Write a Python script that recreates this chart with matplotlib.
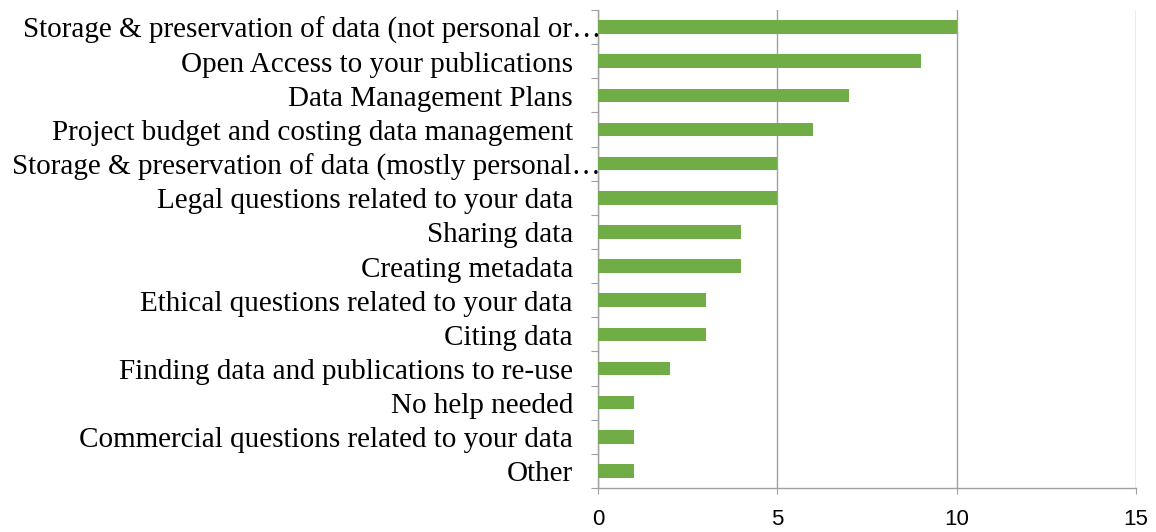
import matplotlib.pyplot as plt
import numpy as np

# survey: what help is wanted with research data
categories = [
    'Storage & preservation of data (not personal or\u2026',
    'Open Access to your publications',
    'Data Management Plans',
    'Project budget and costing data management',
    'Storage & preservation of data (mostly personal\u2026',
    'Legal questions related to your data',
    'Sharing data',
    'Creating metadata',
    'Ethical questions related to your data',
    'Citing data',
    'Finding data and publications to re-use',
    'No help needed',
    'Commercial questions related to your data',
    'Other',
]
counts = [10, 9, 7, 6, 5, 5, 4, 4, 3, 3, 2, 1, 1, 1]
x_ticks = [0, 5, 10, 15]

bar_color = '#70AD47'
grid_color = '#A0A0A0'

fig = plt.figure(figsize=(11.56, 5.32), dpi=100)
ax = fig.add_axes([598 / 1156, 1 - 488 / 532, 538 / 1156, 478 / 532])

y = np.arange(len(categories))
ax.barh(y, counts, height=0.4, color=bar_color, zorder=3)

ax.set_xlim(0, 15)
ax.set_ylim(len(categories) - 0.5, -0.5)
ax.set_xticks(x_ticks)
ax.set_xticklabels([str(t) for t in x_ticks], fontfamily='Liberation Sans', fontsize=16)
ax.tick_params(axis='x', direction='out', length=4, color=grid_color, pad=11)

# y ticks sit between the categories, labels drawn by hand
ax.set_yticks(np.arange(len(categories) + 1) - 0.5)
ax.set_yticklabels([])
ax.tick_params(axis='y', direction='out', length=5, color=grid_color)

for i, lab in enumerate(categories):
    off = 2 if lab.endswith('\u2026') else -18
    ax.annotate(lab, xy=(0, i), xycoords=('axes fraction', 'data'),
                xytext=(off, -2.5), textcoords='offset points',
                ha='right', va='center', fontfamily='Liberation Serif',
                fontsize=21, color='black', zorder=5, annotation_clip=False)

ax.grid(axis='x', color=grid_color, linewidth=1, zorder=0)
ax.grid(axis='y', visible=False)
for s in ['top', 'right']:
    ax.spines[s].set_visible(False)
for s in ['left', 'bottom']:
    ax.spines[s].set_color(grid_color)
    ax.spines[s].set_linewidth(1)

fig.savefig('out.png', dpi=100)
